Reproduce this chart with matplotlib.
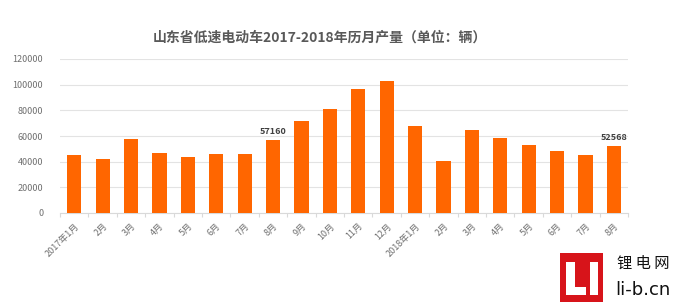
import matplotlib
matplotlib.use("Agg")
import matplotlib.pyplot as plt
from matplotlib.patches import Rectangle
import numpy as np

plt.rcParams['font.family'] = ['Noto Sans CJK SC', 'DejaVu Sans']

months = ['2017年1月', '2月', '3月', '4月', '5月', '6月', '7月', '8月', '9月', '10月',
          '11月', '12月', '2018年1月', '2月', '3月', '4月', '5月', '6月', '7月', '8月']
values = [45500, 42000, 57600, 47000, 43500, 46300, 46300, 57160, 71500, 81400,
          96700, 103000, 67900, 40900, 64800, 58800, 52900, 48400, 45500, 52568]
labeled = {7: '57160', 19: '52568'}
yticks = [0, 20000, 40000, 60000, 80000, 100000, 120000]

W, H = 677, 302
fig = plt.figure(figsize=(W/100, H/100), dpi=100)
ax = fig.add_axes([60/W, 1-213/H, (628-60)/W, (213-59)/H])

x = np.arange(len(months))
ax.bar(x, values, width=0.5, color='#FF6600', zorder=3)
ax.set_xlim(-0.5, len(months)-0.5)
ax.set_ylim(0, 120000)
ax.set_yticks(yticks)
ax.set_yticklabels([str(v) for v in yticks], fontsize=6.5, color='#6f6f6f')
ax.yaxis.grid(True, color='#e3e3e3', linewidth=0.8, zorder=0)
ax.tick_params(axis='y', length=0, pad=12)

ax.set_xticks(x)
ax.set_xticklabels(months, rotation=45, ha='right', rotation_mode='anchor',
                   fontsize=6.5, color='#6f6f6f')
ax.tick_params(axis='x', which='major', length=0, pad=6)
ax.set_xticks(np.arange(len(months)+1)-0.5, minor=True)
ax.tick_params(axis='x', which='minor', length=3, color='#d9d9d9', width=0.8)

for s in ['top', 'right', 'left']:
    ax.spines[s].set_visible(False)
ax.spines['bottom'].set_color('#d9d9d9')

for i, t in labeled.items():
    ax.text(x[i], values[i] + 2500, t, ha='center', va='bottom', fontsize=6.5,
            fontweight='bold', color='#404040')

fig.text(320/W, 1-38/H, '山东省低速电动车2017-2018年历月产量（单位：辆）',
         ha='center', va='center', fontsize=10, fontweight='bold', color='#595959')

# watermark logo
def px_rect(x0, y0, x1, y1, color):
    fig.patches.append(Rectangle((x0/W, 1-y1/H), (x1-x0)/W, (y1-y0)/H,
                                 transform=fig.transFigure, facecolor=color,
                                 edgecolor='none'))

px_rect(560, 253, 603, 302, '#D7141A')
px_rect(566, 262, 575, 295, 'white')
px_rect(566, 287, 586, 295, 'white')
px_rect(590, 262, 598, 295, 'white')
fig.text(643/W, 1-263/H, '锂 电 网', ha='center', va='center', fontsize=11,
         color='#111111')
fig.text(643/W, 1-290/H, 'li-b.cn', ha='center', va='center', fontsize=13,
         color='#111111', family='DejaVu Sans')

fig.savefig('out.png', dpi=100)
